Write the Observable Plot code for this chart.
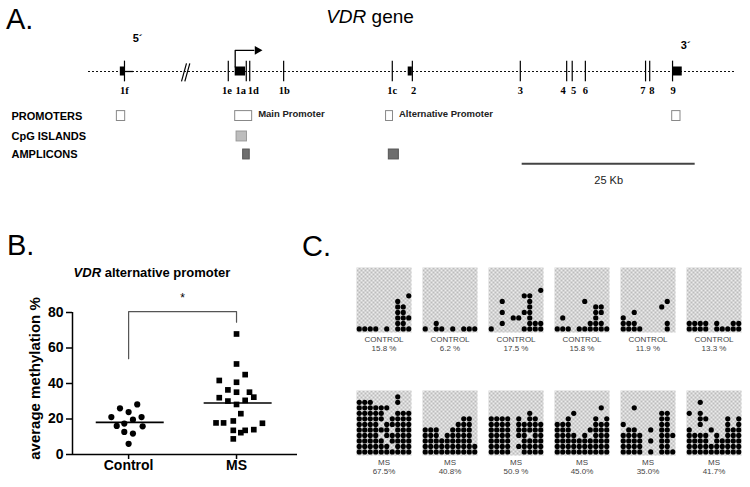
<!DOCTYPE html>
<html>
<head>
<meta charset="utf-8">
<script src="https://cdn.jsdelivr.net/npm/d3@7"></script>
<script src="https://cdn.jsdelivr.net/npm/@observablehq/plot@0.6"></script>
<style>
html,body{margin:0;padding:0;background:#fff;}
#fig{position:relative;width:750px;height:487px;overflow:hidden;font-family:"Liberation Sans",Arial,sans-serif;color:#000;}
#fig .abs{position:absolute;white-space:nowrap;}
.panel{font-size:29px;line-height:29px;}
</style>
</head>
<body>
<svg width="0" height="0" style="position:absolute">
 <defs>
  <pattern id="checker" width="4" height="4" patternUnits="userSpaceOnUse">
   <rect width="4" height="4" fill="#ececec"/>
   <rect width="2" height="2" fill="#bcbcbc"/>
   <rect x="2" y="2" width="2" height="2" fill="#bcbcbc"/>
  </pattern>
 </defs>
</svg>
<div id="fig">
 <div class="abs panel" style="left:6px;top:5px">A.</div>
 <div class="abs panel" style="left:7px;top:231px">B.</div>
 <div class="abs panel" style="left:302px;top:232px">C.</div>
 <div class="abs" style="left:270px;top:7px;width:200px;text-align:center;font-size:19px;line-height:19px"><i>VDR</i> gene</div>
 <div class="abs" style="left:52px;top:266px;width:200px;text-align:center;font-size:13px;line-height:13px;font-weight:bold"><i>VDR</i> alternative promoter</div>
</div>
<script>
// ================= DATA =================
// --- Panel A: VDR gene map (positions in kb; exon 1f is drawn before the "//" break)
const geneSpan = [0, 93.5];
const exonTicks = [
  {exon: "1f", kb: 5.2}, {exon: "1e", kb: 20.2}, {exon: "1a", kb: 22.8}, {exon: "1d", kb: 23.3},
  {exon: "1b", kb: 28.2}, {exon: "1c", kb: 43.9}, {exon: "2", kb: 46.8}, {exon: "3", kb: 62.4},
  {exon: "4", kb: 69.1}, {exon: "5", kb: 69.9}, {exon: "6", kb: 71.8}, {exon: "7", kb: 80.5},
  {exon: "8", kb: 81.1}, {exon: "9", kb: 84.4}
];
const exonLabels = [
  {label: "1f", kb: 5.2}, {label: "1e", kb: 20.0}, {label: "1a", kb: 22.0}, {label: "1d", kb: 23.8},
  {label: "1b", kb: 28.3}, {label: "1c", kb: 43.9}, {label: "2", kb: 47.0}, {label: "3", kb: 62.4},
  {label: "4", kb: 68.6}, {label: "5", kb: 70.1}, {label: "6", kb: 71.8}, {label: "7", kb: 80.1},
  {label: "8", kb: 81.4}, {label: "9", kb: 84.5}
];
const exonBoxes = [
  {exon: "1f", start: 4.6, end: 5.3}, {exon: "1a", start: 21.2, end: 22.7},
  {exon: "2", start: 46.2, end: 46.8}, {exon: "9", start: 84.5, end: 85.8}
];
const solidSegments = [{start: 5.3, end: 6.5}];
const breakMarks = [{x1: 13.44, x2: 14.16}, {x1: 13.92, x2: 14.64}];
const tss = {kb: 21.2, arrowTo: 24.4};
const geneEnds = [{label: "5´", kb: 7.1, end: "prime5"}, {label: "3´", kb: 86.3, end: "prime3"}];
const promoters = [
  {start: 4.1, end: 5.3, note: ""},
  {start: 21.2, end: 23.65, note: "Main Promoter"},
  {start: 43.0, end: 44.0, note: "Alternative Promoter"},
  {start: 84.35, end: 85.55, note: ""}
];
const cpgIslands = [{start: 21.4, end: 22.9}];
const amplicons = [{start: 22.35, end: 23.3}, {start: 43.4, end: 44.85}];
const trackLabels = [
  {track: "promoters", label: "PROMOTERS"},
  {track: "cpg", label: "CpG ISLANDS"},
  {track: "amplicons", label: "AMPLICONS"}
];
const scaleBar = {start: 62.67, end: 87.67, label: "25 Kb"};

// --- Panel B: average methylation % of the VDR alternative promoter
const groups = ["Control", "MS"];
const controlValues = [26.0, 28.2, 21.1, 23.9, 21.1, 16.1, 19.6, 17.4, 12.7, 11.8, 15.9, 6.0];
const controlSpread = [-0.08, 0.08, -0.16, 0, 0.12, -0.11, 0.04, -0.04, -0.04, 0.04, 0.13, 0];
const msValues = [67.9, 51.0, 45.0, 41.7, 40.7, 36.4, 35.1, 35.1, 32.3, 32.0, 30.1, 30.5, 28.2,
                  23.0, 17.8, 17.8, 18.9, 17.6, 13.6, 12.3, 13.6, 14.0, 8.8];
const msSpread = [0, 0, 0.08, -0.16, 0, -0.08, 0, 0.12, 0.16, -0.16, -0.08, 0.08, 0,
                  0.04, -0.19, -0.12, -0.03, 0.24, -0.03, 0.04, 0.08, 0.16, -0.03];
const groupMeans = [18.1, 29.0];
const yTicks = [0, 20, 40, 60, 80];
const significance = {controlEnd: 54, msEnd: 74.5, top: 80.5, label: "*"};

// --- Panel C: methylated CpG dots per sample (rows listed top to bottom, "#" = methylated)
const controlGrids = [
  [".........#", ".......#..", ".......##.", ".......##.", ".......###", ".......##.", "####.#.###"],
  ["..#.......", "#.##.#.###"],
  [".........#", "......##..", "..#....#..", ".......#..", "..#...##..", "....##.#..", "..#....###", "#.....####"],
  [".....#....", ".......##.", ".......##.", ".#.....#..", "......###.", "###.######"],
  ["........#.", ".......#..", "..#.......", "#.........", "###.....#.", "####....#."],
  ["####.#..##", "####.#####"]
];
const msGrids = [
  [".......#..", "###....#..", "######....", "#####..###", "#####.####", "####.#####",
   "######.###", "####.#####", "#####.####", "######.###", "##########"],
  [".......##.", "......###.", "###..####.", "###.#####.", "#########.", "##########", "##########"],
  [".......#..", "####.#.##.", "####.#####", "####.#####", "####.##.##", "####..####", "####.#####", "####..####"],
  ["........#.", "...#......", "..#....#.#", "###....###", "###...####", "####.#.###",
   "##########", "##########", "##########"],
  ["..#.......", ".......##.", ".......##.", "#......##.", ".##..#.##.", "####...###",
   "####.#.##.", "####...##.", "####.#.###"],
  ["..#.......", "..........", "#.#.......", "..##...#.#", "..#....#.#", "#...#..###",
   "####.#.###", "####.#####", "##########", "##########"]
];
const controlPct = ["15.8 %", "6.2 %", "17.5 %", "15.8 %", "11.9 %", "13.3 %"];
const msPct = ["67.5%", "40.8%", "50.9 %", "45.0%", "35.0%", "41.7%"];

// ================= LAYOUT =================
const fig = document.getElementById("fig");
function place(el, left, top) {
  el.style.position = "absolute";
  el.style.left = left + "px";
  el.style.top = top + "px";
  fig.appendChild(el);
}
const sans = "'Liberation Sans', Arial, sans-serif";

// ---------- Panel A ----------
const pxPerKb = 6.92, originPx = 88, geneY = 71, rowPx = 9;
const row = {prime5: -3.7, prime3: -2.9, arrow: -2.35, gene: 0, label: 2.1, promoters: 4.95,
             cpg: 7.22, amplicons: 9.22, bar: 10.26, barLabel: 12.1};
const boxHalf = 0.55;
const panelA = Plot.plot({
  width: 750, height: 200, margin: 0,
  style: {background: "transparent", fontFamily: sans, overflow: "visible"},
  x: {domain: [-originPx / pxPerKb, (750 - originPx) / pxPerKb], range: [0, 750], axis: null},
  y: {domain: [-geneY / rowPx, (200 - geneY) / rowPx], range: [0, 200], axis: null},
  marks: [
    Plot.ruleY([row.gene], {x1: geneSpan[0], x2: geneSpan[1], strokeDasharray: "2,2", strokeWidth: 1.2, stroke: "#111"}),
    Plot.ruleY(solidSegments, {y: () => row.gene, x1: "start", x2: "end", strokeWidth: 1.3}),
    Plot.ruleX(exonTicks, {x: "kb", y1: row.gene - 1.15, y2: row.gene + 1.15, strokeWidth: 1.2}),
    Plot.rect(exonBoxes, {x1: "start", x2: "end", y1: row.gene - 0.5, y2: row.gene + 0.5, fill: "black"}),
    Plot.link(breakMarks, {x1: "x1", x2: "x2", y1: row.gene + 1.1, y2: row.gene - 0.9, strokeWidth: 1.2}),
    Plot.line([{x: tss.kb, y: row.gene - 0.5}, {x: tss.kb, y: row.arrow}, {x: tss.arrowTo - 0.5, y: row.arrow}],
      {x: "x", y: "y", strokeWidth: 1.3}),
    Plot.dot([tss], {x: "arrowTo", y: () => row.arrow, symbol: "triangle", rotate: 90, r: 3.3, fill: "black", stroke: null}),
    Plot.text(exonLabels, {x: "kb", y: row.label, text: "label", fontSize: 10.5, fontWeight: "bold",
      fontFamily: "'Liberation Serif', 'DejaVu Serif', serif"}),
    Plot.text(geneEnds, {x: "kb", y: d => row[d.end], text: "label", fontSize: 11, fontWeight: "bold"}),
    Plot.text(trackLabels, {frameAnchor: "left", dx: 11, y: d => row[d.track], text: "label",
      fontSize: 11, fontWeight: "bold", textAnchor: "start"}),
    Plot.rect(promoters, {x1: "start", x2: "end", y1: row.promoters - boxHalf, y2: row.promoters + boxHalf,
      fill: "white", stroke: "#888", strokeWidth: 1}),
    Plot.text(promoters, {x: "end", y: row.promoters - 0.25, text: "note", dx: 6, textAnchor: "start",
      fontSize: 9.5, fontWeight: "bold", fill: "#222"}),
    Plot.rect(cpgIslands, {x1: "start", x2: "end", y1: row.cpg - boxHalf, y2: row.cpg + boxHalf,
      fill: "#bdbdbd", stroke: "#999"}),
    Plot.rect(amplicons, {x1: "start", x2: "end", y1: row.amplicons - boxHalf, y2: row.amplicons + boxHalf,
      fill: "#6e6e6e", stroke: "#555"}),
    Plot.ruleY([scaleBar], {y: () => row.bar, x1: "start", x2: "end", stroke: "#444", strokeWidth: 2}),
    Plot.text([scaleBar], {x: d => (d.start + d.end) / 2, y: row.barLabel, text: "label", fontSize: 11, fill: "#222"})
  ]
});
place(panelA, 0, 0);

// ---------- Panel B ----------
const bxDomain = [0.48, 2.565];
const controlPts = controlValues.map((v, i) => ({g: 1, v, off: controlSpread[i]}));
const msPts = msValues.map((v, i) => ({g: 2, v, off: msSpread[i]}));
const meanPts = groupMeans.map((m, i) => ({g: i + 1, m}));
const bracket = [
  {g: 1, v: significance.controlEnd}, {g: 1, v: significance.top},
  {g: 2, v: significance.top}, {g: 2, v: significance.msEnd}
];
const panelB = Plot.plot({
  width: 310, height: 232, marginLeft: 72, marginRight: 13, marginTop: 57, marginBottom: 33,
  style: {background: "transparent", fontFamily: sans, fontSize: "14px", fontWeight: "bold", overflow: "visible"},
  x: {domain: bxDomain, axis: null},
  y: {domain: [0, 80], axis: null},
  marks: [
    Plot.ruleY([0], {strokeWidth: 1.5}),
    Plot.ruleX([bxDomain[0]], {y1: 0, y2: 80, strokeWidth: 1.5}),
    Plot.axisY({ticks: yTicks, tickSize: 6, tickPadding: 3, label: null, strokeWidth: 1.5}),
    Plot.axisX({ticks: [1, 2], tickFormat: d => groups[d - 1], tickSize: 5, tickPadding: 1, label: null, strokeWidth: 1.5}),
    Plot.text(["average methylation %"], {frameAnchor: "left", textAnchor: "middle", rotate: -90, dx: -37, dy: -5, fontSize: 15}),
    Plot.line(bracket, {x: "g", y: "v", stroke: "#555", strokeWidth: 1.2}),
    Plot.text([significance], {x: 1.5, y: "top", dy: -13, text: "label", fontSize: 12, fontWeight: "normal"}),
    Plot.ruleY(meanPts, {y: "m", x1: d => d.g - 0.3, x2: d => d.g + 0.33, strokeWidth: 1.6}),
    Plot.dot(controlPts, {x: d => d.g + d.off, y: "v", r: 3.1, fill: "black", stroke: null}),
    Plot.dot(msPts, {x: d => d.g + d.off, y: "v", r: 3.2, symbol: "square", fill: "black", stroke: null})
  ]
});
place(panelB, 0, 255);

// ---------- Panel C ----------
const cDots = [];
[["CONTROL", controlGrids], ["MS", msGrids]].forEach(([group, grids]) => {
  grids.forEach((rows, sample) => {
    rows.forEach((s, k) => {
      const r = rows.length - 1 - k;
      [...s].forEach((ch, col) => { if (ch === "#") cDots.push({group, sample, col, row: r}); });
    });
  });
});
const cLabels = [
  ...controlPct.map((pct, sample) => ({group: "CONTROL", sample, pct})),
  ...msPct.map((pct, sample) => ({group: "MS", sample, pct}))
];
const panelC = Plot.plot({
  width: 410, height: 232, marginLeft: 14, marginRight: 8, marginTop: 12, marginBottom: 32,
  style: {background: "transparent", fontFamily: sans, overflow: "visible"},
  fx: {domain: d3.range(6), paddingInner: 0.174, paddingOuter: 0, axis: null},
  fy: {domain: ["CONTROL", "MS"], paddingInner: 0.472, paddingOuter: 0, axis: null},
  x: {domain: [-0.5, 9.5], axis: null},
  y: {domain: [-0.65, 11.15], axis: null},
  marks: [
    Plot.frame({fill: "url(#checker)", stroke: null}),
    Plot.dot(cDots, {fx: "sample", fy: "group", x: "col", y: "row", r: 2.6, fill: "black", stroke: null}),
    Plot.text(cLabels, {fx: "sample", fy: "group", frameAnchor: "bottom", lineAnchor: "top", dy: 3,
      text: d => d.group + "\n" + d.pct, fontSize: 8, lineHeight: 1.15, fill: "#444"})
  ]
});
place(panelC, 340, 255);
</script>
</body>
</html>
